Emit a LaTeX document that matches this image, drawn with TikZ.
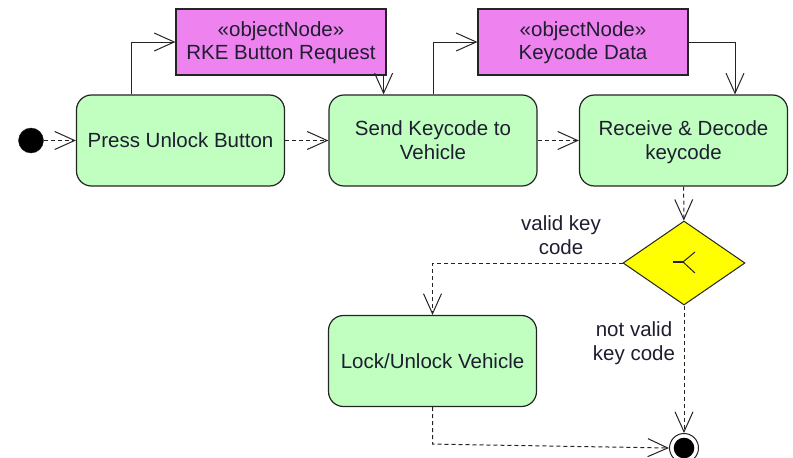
\documentclass[tikz,border=0pt]{standalone}
\usepackage{fontspec}
\setmainfont{Liberation Sans}
\usetikzlibrary{arrows.meta,shapes.geometric,calc}
\definecolor{actgreen}{RGB}{192,255,192}
\definecolor{objpink}{RGB}{238,130,238}
\definecolor{decyellow}{RGB}{255,255,0}
\definecolor{ink}{RGB}{30,30,48}
\definecolor{edge}{RGB}{36,36,36}
% strut balanced so that text sits optically centred in its box
\newcommand\tstrut{\rule[-4.2pt]{0pt}{23.2pt}}
\newcommand\ostrut{\rule[-5.2pt]{0pt}{22.2pt}}

\begin{document}
\begin{tikzpicture}[x=1pt,y=-1pt,
  every node/.style={font=\fontsize{20.5}{24}\selectfont, text=ink},
  action/.style={draw=edge, line width=1.2pt, fill=actgreen, rounded corners=15pt,
    minimum width=208pt, minimum height=91pt, align=center, inner sep=0pt},
  objnode/.style={draw=edge, line width=1.2pt, fill=objpink, font=\fontsize{20.5}{22}\selectfont,
    minimum width=210pt, minimum height=66pt, align=center, inner sep=0pt},
  flow/.style={draw=edge, line width=1pt, -{Straight Barb[length=20pt,width=18pt]}},
  ctrl/.style={flow, dash pattern=on 4pt off 3pt},
  guard/.style={align=center}
]
\useasboundingbox (0,0) rectangle (793,458);

% actions
\node[action] (press) at (180.5,140.5) {\tstrut Press Unlock Button\tstrut};
\node[action] (send)  at (433,140.5)   {\tstrut Send Keycode to\\Vehicle\tstrut};
\node[action] (recv)  at (683.5,140.5) {\tstrut Receive \& Decode\\keycode\tstrut};
\node[action] (lock)  at (432.5,361)   {\tstrut Lock/Unlock Vehicle\tstrut};

% object nodes
\node[objnode] (rke) at (281,42) {\ostrut«objectNode»\\RKE Button Request\ostrut};
\node[objnode] (kcd) at (583,42) {\ostrut«objectNode»\\Keycode Data\ostrut};

% initial, decision and final nodes
\node[circle, draw=edge, fill=black, minimum size=25pt, inner sep=0pt] (start) at (31,140.5) {};
\node[diamond, draw=edge, line width=1pt, fill=decyellow,
      minimum width=122pt, minimum height=84pt, inner sep=0pt] (dec) at (684,263) {};
\node[circle, draw=edge, line width=1pt, fill=white, minimum size=29pt, inner sep=0pt] (final) at (684,448) {};
\fill[black] (final) circle (10.3pt);

% branch glyph inside the decision
\begin{scope}[shift={(dec.center)}]
  \draw[edge, line width=2.6pt] (-11,-1) -- (-1,-1);
  \draw[edge, line width=1pt] (-1,-1) -- (11,-11) (-1,-1) -- (11,10);
\end{scope}

% control flows
\draw[ctrl] (start) -- (press);
\draw[ctrl] (press) -- (send);
\draw[ctrl] (send) -- (recv);
\draw[ctrl] (recv) -- (dec);
\draw[ctrl] (dec.west) -| (lock.north);
\draw[ctrl] (dec) -- (final);
\draw[ctrl] (lock.south) -- ++(0,37) -- (final.west);

% object flows
\draw[flow] ([xshift=-49.5pt]press.north) |- (rke.west);
\draw[flow] ([xshift=-3pt]rke.south east) -- ([xshift=-3pt]rke.south east |- send.north);
\draw[flow] (send.north) |- (kcd.west);
\draw[flow] (kcd.east) -| ([xshift=51.5pt]recv.north);

% guards
\node[guard] (gvalid) at (561,235) {\tstrut valid key\\code\tstrut};
\node[guard] (gnot)   at (634,341) {\tstrut not valid\\key code\tstrut};
\end{tikzpicture}
\end{document}
